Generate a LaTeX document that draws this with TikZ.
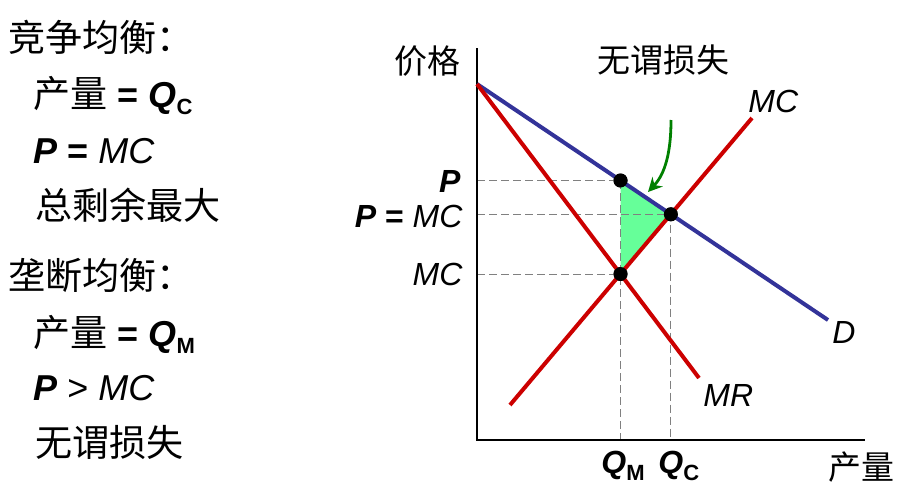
\documentclass[tikz,border=0pt]{standalone}
\usepackage{fontspec}
\setmainfont{Liberation Sans}
\newfontfamily\cjk[Scale=1.03]{Noto Sans CJK SC}
\usetikzlibrary{arrows.meta,positioning,calc}
\definecolor{cD}{HTML}{333399}
\definecolor{cR}{HTML}{CC0000}
\definecolor{cG}{HTML}{66FF99}
\definecolor{cA}{HTML}{008000}
\definecolor{cL}{HTML}{808080}
\newcommand{\QQ}[1]{\textbf{\textit{Q}}\raisebox{-0.22em}{\fontsize{11}{12}\selectfont\bfseries #1}}
\newcommand{\PP}{\textbf{\textit{P}}}
\newcommand{\eqs}{\textbf{=}}
\tikzset{
  txt/.style={anchor=base west,inner sep=0pt,font=\fontsize{16}{19}\selectfont},
  rtxt/.style={anchor=base east,inner sep=0pt,font=\fontsize{16}{19}\selectfont},
  lft/.style={anchor=base west,inner sep=0pt,font=\fontsize{18}{21}\selectfont},
  axis/.style={line width=1pt,black},
  guide/.style={line width=0.5pt,cL,dash pattern=on 4pt off 2pt},
  demand/.style={line width=2pt,cD},
  redline/.style={line width=2pt,cR},
  dot/.style={circle,fill=black,inner sep=0pt,minimum size=7pt},
  lossarrow/.style={-{Stealth[length=7pt,width=7pt]},line width=1.4pt,cA},
  dwl/.style={fill=cG},
}

\begin{document}
\begin{tikzpicture}[x=0.5pt,y=-0.5pt]
  \useasboundingbox (0,0) rectangle (910,498);
  % left column
  \node[lft](c1) at (8,51){\cjk 竞争均衡：};
  \node[lft](c2) at (33,107){\cjk 产量\normalfont{} \eqs{} \QQ{C}};
  \node[lft](c3) at (33,163){\PP{} \eqs{} \textit{MC}};
  \node[lft](c4) at (35,219){\cjk 总剩余最大};
  \node[lft](m1) at (8,289){\cjk 垄断均衡：};
  \node[lft](m2) at (33,346){\cjk 产量\normalfont{} \eqs{} \QQ{M}};
  \node[lft](m3) at (33,400){\PP{} > \textit{MC}};
  \node[lft](m4) at (35,456){\cjk 无谓损失};
  % chart
  \coordinate(o) at (477,440);\coordinate(ytop) at (477,48);\coordinate(xend) at (865,440);
  \coordinate(top) at (477,84);\coordinate(dend) at (828,320);
  \coordinate(mrend) at (699,378);
  \coordinate(mcbot) at (510,405);\coordinate(mctop) at (752,118);
  \node[dot](pm) at (620.5,180.5){};
  \node[dot](ec) at (670.8,214.3){};
  \node[dot](mm) at (620.5,274){};
  \fill[dwl](pm.center)--(ec.center)--(mm.center)--cycle;
  \draw[guide](pm-|o)--(pm.center)--(pm|-o);
  \draw[guide](ec-|o)--(ec.center)--(ec|-o);
  \draw[guide](mm-|o)--(mm.center);
  \draw[axis](ytop)--(o)--(xend);
  \draw[demand](top)--(dend);
  \draw[redline](top)--(mrend);
  \draw[redline](mcbot)--(mctop);
  \node[dot] at (pm){};\node[dot] at (ec){};\node[dot] at (mm){};
  \coordinate(a0) at (671,120);\coordinate(a1) at (648,192);
  \draw[lossarrow](a0) .. controls (671,160) and (662,177) .. (a1);
  % labels
  \node[rtxt](lpr) at (461,73){\cjk 价格};
  \node[txt](ldwl) at (597,72){\cjk 无谓损失};
  \node[rtxt](lp) at (461,192){\PP};
  \node[rtxt](lpmc) at (463,227){\PP{} \eqs{} \textit{MC}};
  \node[rtxt](lmc) at (463,285){\textit{MC}};
  \node[txt](lmct) at (748,112){\textit{MC}};
  \node[txt](ld) at (832,343){\textit{D}};
  \node[txt](lmr) at (703,406){\textit{MR}};
  \node[txt](lqm) at (601,473){\QQ{M}};
  \node[txt](lqc) at (658,473){\QQ{C}};
  \node[txt](lq) at (828,479){\cjk 产量};
\end{tikzpicture}
\end{document}
